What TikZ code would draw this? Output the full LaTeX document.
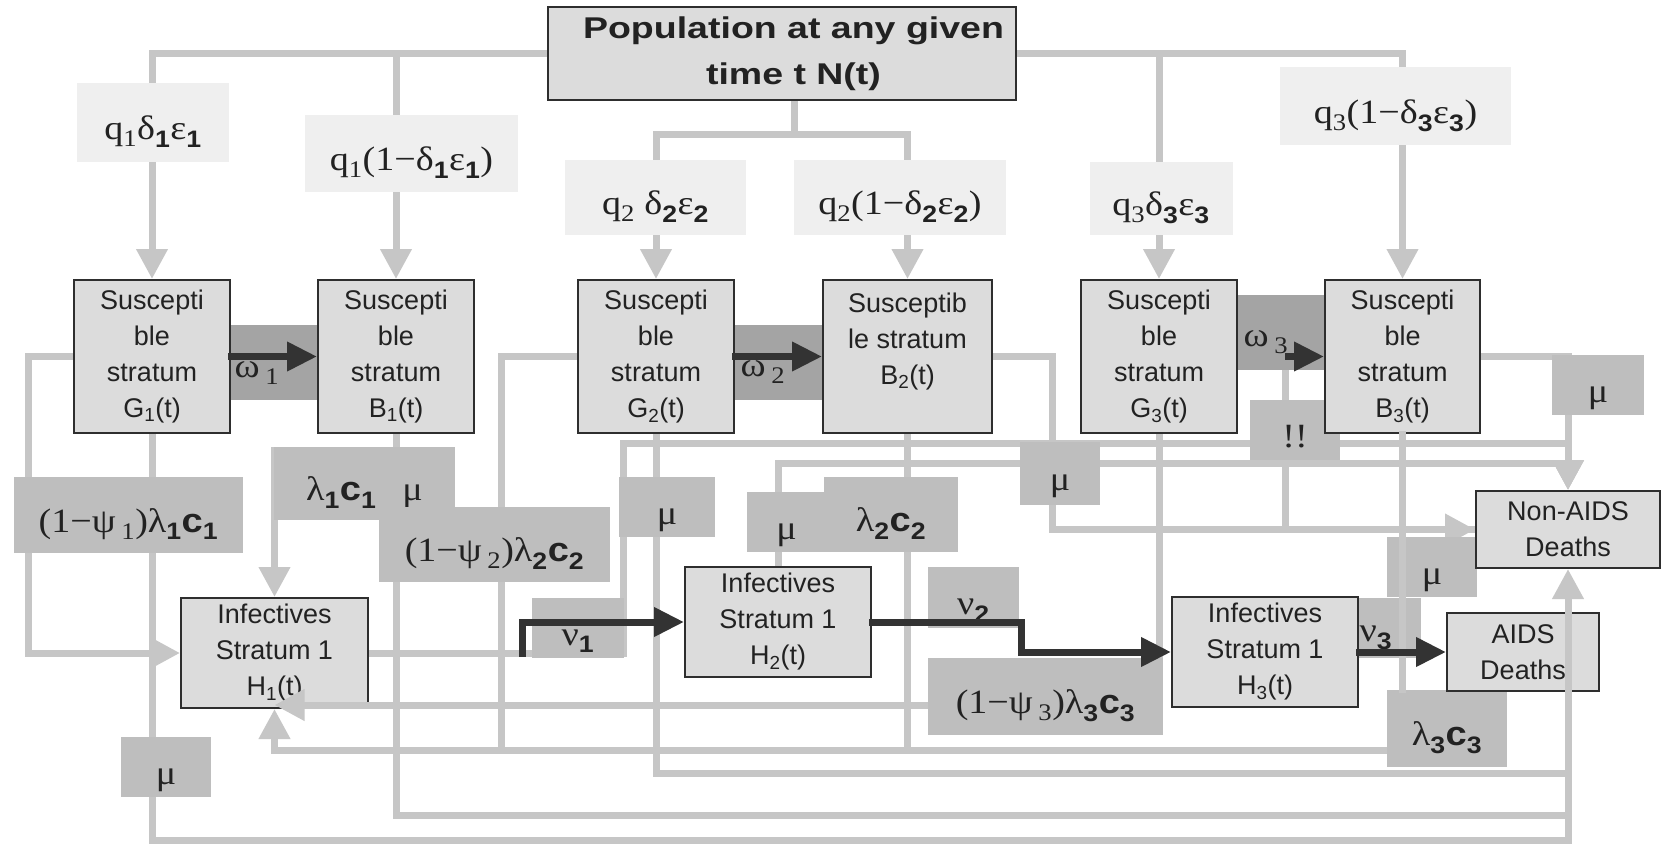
\documentclass[tikz,border=0pt]{standalone}
\usepackage{fontspec}
\setmainfont{Liberation Serif}
\newfontfamily\sansf{Liberation Sans}
\newfontfamily\popf[FakeStretch=1.25]{Liberation Sans}
\newfontfamily\labf[FakeStretch=1.12]{Liberation Serif}
\newfontfamily\labsf[FakeStretch=1.12]{Liberation Sans}
\usetikzlibrary{arrows.meta,calc}
\pgfdeclarelayer{lines}
\pgfdeclarelayer{labels}
\pgfdeclarelayer{top}
\pgfsetlayers{lines,labels,main,top}

\newcommand{\bsub}[1]{\textsubscript{\labsf\bfseries #1}}
\newcommand{\rsub}[1]{\textsubscript{#1}}
\newcommand{\bc}{{\labsf\bfseries c}}

\definecolor{boxfill}{HTML}{DCDCDC}
\definecolor{boxline}{HTML}{2E2E2E}
\definecolor{glinec}{HTML}{C6C6C6}
\definecolor{ratefill}{HTML}{BEBEBE}
\definecolor{qfill}{HTML}{EFEFEF}
\definecolor{omfill}{HTML}{A4A4A4}
\definecolor{darkc}{HTML}{333333}
\definecolor{txtc}{HTML}{222222}

\tikzset{
  stratum/.style={draw=boxline, line width=2pt, fill=boxfill, inner sep=0pt, align=center,
    text=txtc, font=\sansf\fontsize{27}{36}\selectfont},
  gline/.style={draw=glinec, line width=7pt, line cap=rect},
  garrow/.style={gline, -{Triangle[length=30pt,width=30pt]}},
  darrow/.style={draw=darkc, line width=7pt, line cap=rect, -{Triangle[length=30pt,width=28pt]}},
  labfont/.style={text=txtc, font=\labf\fontsize{34}{36}\selectfont},
  qlab/.style={labfont, fill=qfill, inner sep=0pt, text height=34pt, text depth=0pt},
  ratelab/.style={labfont, fill=ratefill, inner sep=0pt, text height=34pt, text depth=0pt},
  omrect/.style={fill=omfill, inner sep=0pt},
  txt/.style={labfont, inner sep=0pt},
}

\begin{document}
\begin{tikzpicture}[x=1pt,y=-1pt]
\useasboundingbox (0,0) rectangle (1665,844);

% ---------- main boxes ----------
\node[stratum, minimum width=468pt, minimum height=93pt,
      font=\popf\bfseries\fontsize{30}{46}\selectfont] (pop) at (782,53.5)
      {\hspace*{23pt}Population at any given\\\hspace*{23pt}time t N(t)};
\node[stratum, minimum width=156pt, minimum height=153pt] (G1) at (152,356.5) {Suscepti\\ble\\stratum\\G\textsubscript{1}(t)};
\node[stratum, minimum width=156pt, minimum height=153pt] (B1) at (396,356.5) {Suscepti\\ble\\stratum\\B\textsubscript{1}(t)};
\node[stratum, minimum width=156pt, minimum height=153pt] (G2) at (656,356.5) {Suscepti\\ble\\stratum\\G\textsubscript{2}(t)};
\node[stratum, minimum width=169pt, minimum height=153pt] (B2) at (907.5,356.5) {Susceptib\\le stratum\\B\textsubscript{2}(t)\\\mbox{}};
\node[stratum, minimum width=156pt, minimum height=153pt] (G3) at (1159,356.5) {Suscepti\\ble\\stratum\\G\textsubscript{3}(t)};
\node[stratum, minimum width=155pt, minimum height=153pt] (B3) at (1402.5,356.5) {Suscepti\\ble\\stratum\\B\textsubscript{3}(t)};
\node[stratum, minimum width=187pt, minimum height=110pt] (H1) at (274.5,653) {Infectives\\Stratum 1\\H\textsubscript{1}(t)};
\node[stratum, minimum width=186pt, minimum height=110pt] (H2) at (778,622) {Infectives\\Stratum 1\\H\textsubscript{2}(t)};
\node[stratum, minimum width=186pt, minimum height=110pt] (H3) at (1265,652) {Infectives\\Stratum 1\\H\textsubscript{3}(t)};
\node[stratum, minimum width=184pt, minimum height=77pt] (NA) at (1568,529.5) {Non-AIDS\\Deaths};
\node[stratum, minimum width=152pt, minimum height=78pt] (AIDS) at (1523,652) {AIDS\\Deaths};

% ---------- helper coordinates ----------
\coordinate (ybot) at (0,840);
\coordinate (y815) at (0,815);
\coordinate (y773) at (0,773);
\coordinate (y750) at (0,750);
\coordinate (y450) at (0,450);
\coordinate (y443) at (0,443);
\coordinate (y463) at (0,463);
\coordinate (jn) at ($(pop.south)+(12,33)$);
\coordinate (h1in) at ($(H1.south)+(100,-4)$);

% ---------- grey connectors ----------
\begin{pgfonlayer}{lines}
\fill[white] (0,0) rectangle (1665,844);
\draw[garrow] (pop.west) -| (G1.north);
\draw[garrow] (pop.west -| B1.north) -- (B1.north);
\draw[garrow] (pop.east) -| (B3.north);
\draw[garrow] (pop.east -| G3.north) -- (G3.north);
\draw[gline] (pop.south -| jn) -- (jn);
\draw[garrow] (jn) -| (G2.north);
\draw[garrow] (jn) -| (B2.north);

\draw[garrow] (G1.west) -- ++(-45,0) |- (H1.west);
\draw[gline] (G1.south) |- (NA.south |- ybot);
\draw[gline] (B1.south) |- (NA.south |- y815);
\draw[gline] (G2.south) |- (NA.south |- y773);
\draw[garrow] (B1.south |- y450) -| (H1.north);
\draw[gline] (G2.west) -- ++(-76,0) |- (H1.south |- y750);
\draw[garrow] (B3.south) |- (H1.south |- y750) -- (H1.south);
\draw[gline] (B2.south) -- (B2.south |- y750);
\draw[gline] (G3.south) |- (h1in);

\draw[garrow] (H1.east) -- ++(254,0) |- (NA.north |- y443) -- (NA.north);
\draw[garrow] (H2.north) |- (NA.north |- y463) -- (NA.north);
\draw[garrow] (B2.east) -- ++(59,0) |- (NA.west);
\draw[gline] ($(G3.east)+(47,0)$) |- (NA.west);
\draw[garrow] (B3.east) -| (NA.north);
\end{pgfonlayer}

% ---------- labels ----------
\begin{pgfonlayer}{labels}
\node[qlab, minimum width=152pt, minimum height=79pt] (lq1a) at (153,122.5) {q\rsub{1}δ\bsub{1}ε\bsub{1}};
\node[qlab, minimum width=213pt, minimum height=77pt] (lq1b) at (411.5,153.5) {q\rsub{1}(1−δ\bsub{1}ε\bsub{1})};
\node[qlab, minimum width=181pt, minimum height=75pt] (lq2a) at (655.5,197.5) {q\rsub{2} δ\bsub{2}ε\bsub{2}};
\node[qlab, minimum width=212pt, minimum height=75pt] (lq2b) at (900,197.5) {q\rsub{2}(1−δ\bsub{2}ε\bsub{2})};
\node[qlab, minimum width=143pt, minimum height=73pt] (lq3a) at (1161,198.5) {q\rsub{3}δ\bsub{3}ε\bsub{3}};
\node[qlab, minimum width=231pt, minimum height=78pt] (lq3b) at (1395.5,106) {q\rsub{3}(1−δ\bsub{3}ε\bsub{3})};

\node[omrect, minimum width=88pt, minimum height=75pt] (w1) at (274,362.5) {};
\node[omrect, minimum width=89pt, minimum height=75pt] (w2) at (778.5,362.5) {};
\node[omrect, minimum width=88pt, minimum height=75pt] (w3) at (1281,332.5) {};

\node[ratelab, minimum width=229pt, minimum height=76pt] (lpsi1) at (128.5,515) {(1−ψ\,\rsub{1})λ\bsub{1}\bc\bsub{1}};
\node[ratelab, minimum width=181pt, minimum height=73pt] (llam1) at (364.5,483.5) {λ\bsub{1}\bc\bsub{1}\hspace{26pt}μ};
\node[ratelab, minimum width=231pt, minimum height=75pt] (lpsi2) at (494.5,544.5) {(1−ψ\,\rsub{2})λ\bsub{2}\bc\bsub{2}};
\node[ratelab, minimum width=96pt, minimum height=60pt] (lmug2) at (667,507) {μ};
\node[ratelab, minimum width=79pt, minimum height=60pt] (lmuh2) at (786.5,522) {μ};
\node[ratelab, minimum width=134pt, minimum height=75pt] (llam2) at (891,514.5) {λ\bsub{2}\bc\bsub{2}};
\node[ratelab, minimum width=80pt, minimum height=63pt] (lmub2) at (1060,473.5) {μ};
\node[ratelab, minimum width=90pt, minimum height=60pt] (lmug3) at (1295,430) {!!};
\node[ratelab, minimum width=92pt, minimum height=60pt] (lmub3) at (1598,385) {μ};
\node[ratelab, minimum width=92pt, minimum height=60pt] (lnu1) at (578,628) {ν\bsub{1}};
\node[ratelab, minimum width=91pt, minimum height=61pt] (lnu2) at (973.5,597.5) {ν\bsub{2}};
\node[ratelab, minimum width=235pt, minimum height=77pt] (lpsi3) at (1045.5,696.5) {(1−ψ\,\rsub{3})λ\bsub{3}\bc\bsub{3}};
\node[ratelab, minimum width=62pt, minimum height=60pt] (lnu3) at (1390,628) {};
\node[txt] (tnu3) at (1376,638) {ν\bsub{3}};
\node[ratelab, minimum width=90pt, minimum height=60pt] (lmuh3) at (1432,567) {μ};
\node[ratelab, minimum width=120pt, minimum height=77pt] (llam3) at (1447,728.5) {λ\bsub{3}\bc\bsub{3}};
\node[ratelab, minimum width=90pt, minimum height=60pt] (lmug1) at (166,767) {μ};
\end{pgfonlayer}

% ---------- overlays ----------
\begin{pgfonlayer}{top}
\draw[garrow] (NA.south |- ybot) -- (NA.south);
\draw[gline] (B3.south) -- (B3.south |- llam3.north);
\draw[garrow] (h1in) -- ($(H1.south)+(0,-4)$);

\draw[darrow] (G1.east) -- (B1.west);
\draw[darrow] (G2.east) -- (B2.west);
\draw[darrow] ($(G3.east)+(50,0)$) -- (B3.west);
\draw[darrow] ($(H1.east)+(153,0)$) |- (H2.west);
\draw[darrow] (H2.east) -- ++(149,0) |- (H3.west);
\draw[darrow] (H3.east) -- (AIDS.west);

\node[txt] (om1) at (257,373) {ω\,\rsub{1}};
\node[txt] (om2) at (763,372) {ω\,\rsub{2}};
\node[txt] (om3) at (1266,342) {ω\,\rsub{3}};
\end{pgfonlayer}
\end{tikzpicture}
\end{document}
